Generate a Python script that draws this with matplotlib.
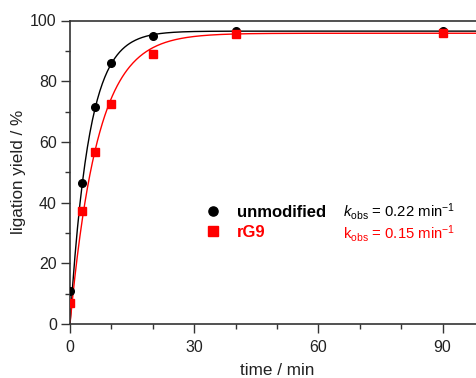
import numpy as np
import matplotlib
matplotlib.use("Agg")
import matplotlib.pyplot as plt

plt.rcParams['font.family'] = ['Liberation Sans', 'DejaVu Sans']
plt.rcParams['mathtext.fontset'] = 'custom'
plt.rcParams['mathtext.rm'] = 'Liberation Sans'
plt.rcParams['mathtext.it'] = 'Liberation Sans:italic'

# Data
time_min = [0, 3, 6, 10, 20, 40, 90]
unmodified = [10.8, 46.4, 71.5, 86.0, 95.0, 96.6, 96.5]
rG9 = [7.0, 37.3, 56.7, 72.4, 89.0, 95.6, 96.0]
# first-order fit parameters (plateau, k_obs)
fit_unmod = (96.5, 0.22)
fit_rG9 = (95.8, 0.15)
x_ticks = [0, 30, 60, 90]
y_ticks = [0, 20, 40, 60, 80, 100]

fig = plt.figure(figsize=(4.77, 3.78), dpi=100)
W, H = 477, 378
ax = fig.add_axes([70 / W, 1 - 324 / H, 414 / W, 303.5 / H])

t = np.linspace(0, 100, 500)
A, k = fit_unmod
ax.plot(t, A * (1 - np.exp(-k * t)), color='black', lw=1.0, zorder=2)
A, k = fit_rG9
ax.plot(t, A * (1 - np.exp(-k * t)), color='red', lw=1.0, zorder=2)

h1, = ax.plot(time_min, unmodified, 'o', color='black', ms=5.5, ls='none', zorder=3,
              label='unmodified')
h2, = ax.plot(time_min, rG9, 's', color='red', ms=5.5, ls='none', zorder=3,
              label='rG9')

ax.set_xlim(0, 100)
ax.set_ylim(0, 100)
ax.set_xticks(x_ticks)
ax.set_yticks(y_ticks)
ax.set_xticks(np.arange(0, 101, 10), minor=True)
ax.set_yticks(np.arange(0, 101, 10), minor=True)
ax.tick_params(which='both', direction='out', width=1.0, colors='#333333',
               labelcolor='#222222', labelsize=11.5)
ax.tick_params(which='major', length=6.5, pad=3)
ax.tick_params(axis='x', which='major', pad=5)
ax.tick_params(which='minor', length=3.5)
for s in ax.spines.values():
    s.set_linewidth(1.2)
    s.set_color('#333333')

ax.set_xlabel('time / min', fontsize=12.3, color='#222222', labelpad=5.5)
ax.set_ylabel('ligation yield / %', fontsize=12.3, color='#222222', labelpad=3)

leg = ax.legend(handles=[h1, h2], loc='center left',
                bbox_to_anchor=(188 / W, 1 - 222 / H), bbox_transform=fig.transFigure,
                frameon=False, prop={'weight': 'bold', 'size': 12},
                labelcolor=['black', 'red'], handletextpad=0.85, handlelength=1.2,
                labelspacing=0.3, markerscale=1.2)

fig.text(343 / W, 1 - 211 / H, r'$k_{\mathrm{obs}}$ = 0.22 min$^{-1}$', fontsize=10.7,
         color='black', va='center', ha='left')
fig.text(343 / W, 1 - 234 / H, r'k$_{\mathrm{obs}}$ = 0.15 min$^{-1}$', fontsize=10.7,
         color='red', va='center', ha='left')

fig.savefig('out.png', dpi=100)
